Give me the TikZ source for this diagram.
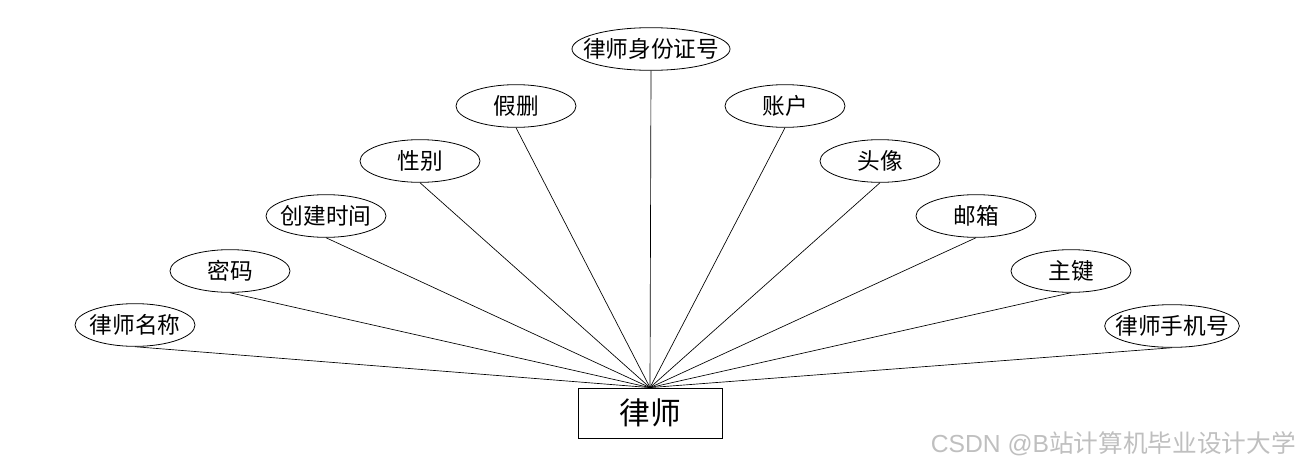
\documentclass[tikz,border=0pt]{standalone}
\usepackage{fontspec}
\setmainfont{Noto Sans CJK SC}
\usetikzlibrary{shapes.geometric, positioning}

\begin{document}
\begin{tikzpicture}[
        x=0.75pt, y=-0.75pt,
        every node/.style={font=\fontsize{17}{20}\selectfont, inner sep=0pt},
        attr/.style={
            ellipse,
            draw,
            line width=0.6pt,
            inner xsep=-12pt,
            minimum width=90pt,
            minimum height=32pt
        },
        entity/.style={
            rectangle,
            draw,
            line width=0.6pt,
            minimum width=108pt,
            minimum height=37.5pt,
            font=\fontsize{23}{26}\selectfont
        },
        link/.style={line width=0.5pt}
    ]
        \useasboundingbox (0,0) rectangle (1300,468);

        % entity
        \node[entity] (LS) at (650,413) {律师};

        % attributes, left side
        \node[attr] (MC) at (135,325) {律师名称};
        \node[attr] (MM) at (230,271) {密码};
        \node[attr] (CJ) at (326,216) {创建时间};
        \node[attr] (XB) at (420,161) {性别};
        \node[attr] (JS) at (516,106) {假删};
        \node[attr, minimum width=118.5pt] (SF) at (651,49) {律师身份证号};

        % attributes, right side
        \node[attr] (ZH) at (785,106) {账户};
        \node[attr] (TX) at (880,161) {头像};
        \node[attr] (YX) at (976,216) {邮箱};
        \node[attr] (ZJ) at (1071,271) {主键};
        \node[attr, minimum width=101pt] (SJ) at (1172,326) {律师手机号};

        % links to the entity
        \foreach \a in {MC,MM,CJ,XB,JS,SF,ZH,TX,YX,ZJ,SJ}
            \draw[link] (\a.south) -- (LS.north);

        % watermark
        \node[font=\fontsize{18.5}{20}\selectfont, text=black!25, anchor=east] (WM) at (1296,444) {\setmainfont{Liberation Sans}CSDN @B\setmainfont{Noto Sans CJK SC}站计算机毕业设计大学};
    \end{tikzpicture}
\end{document}
